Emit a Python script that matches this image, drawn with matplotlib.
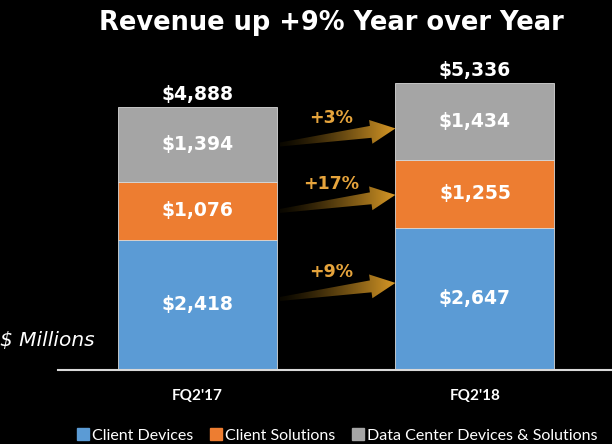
import numpy as np
import matplotlib.pyplot as plt
from matplotlib.patches import Polygon
from matplotlib.lines import Line2D

quarters = ["FQ2'17", "FQ2'18"]
client_devices = [2418, 2647]
client_solutions = [1076, 1255]
data_center = [1394, 1434]
growth = ["+9%", "+17%", "+3%"]

segment_names = ["Client Devices", "Client Solutions", "Data Center Devices & Solutions"]
colors = ['#5b9bd5', '#ed7d31', '#a5a5a5']
gold = '#e6a43c'
bar_width = 0.573

fig = plt.figure(figsize=(6.12, 4.44), dpi=100, facecolor='black')
ax = fig.add_axes([0.0948, 0.1667, 0.9052, 0.7027])
ax.set_facecolor('black')

x = np.arange(len(quarters))
series = [client_devices, client_solutions, data_center]
bottom = np.zeros(len(quarters))
centers = []
for vals, col in zip(series, colors):
    vals = np.array(vals)
    ax.bar(x, vals, bar_width, bottom=bottom, color=col,
           edgecolor='#d9d9d9', linewidth=0.6)
    for xi, b, v in zip(x, bottom, vals):
        ax.text(xi, b + v / 2, '${:,}'.format(v), ha='center', va='center',
                color='white', fontsize=13.5, fontweight='bold')
    centers.append(bottom + vals / 2)
    bottom = bottom + vals

# totals above bars
for xi, tot in zip(x, bottom):
    ax.text(xi, tot + 60, '${:,.0f}'.format(tot), ha='center', va='bottom',
            color='white', fontsize=13.5, fontweight='bold')

ax.set_xlim(-0.503, 1.494)
ax.set_ylim(0, 5800)
ax.set_xticks(x)
ax.set_xticklabels(quarters, color='white', fontsize=11, fontweight='bold',
                   family='Lato')
ax.tick_params(axis='x', length=0, pad=14)
ax.set_yticks([])
for s in ['top', 'left', 'right']:
    ax.spines[s].set_visible(False)
ax.spines['bottom'].set_color('#d9d9d9')
ax.spines['bottom'].set_linewidth(1.5)


def gradient_arrow(x0, y0, x1, y1):
    # build the arrow outline in pixels, then map back to data
    p0 = ax.transData.transform((x0, y0))
    p1 = ax.transData.transform((x1, y1))
    d = p1 - p0
    L = np.hypot(*d)
    u = d / L
    n = np.array([-u[1], u[0]])
    hl = 25
    local = [(0, 2), (L - hl, 6), (L - hl, 12), (L, 0),
             (L - hl, -12), (L - hl, -6), (0, -2)]
    pts = np.array([p0 + a * u + b * n for a, b in local])
    pts = ax.transData.inverted().transform(pts)
    poly = Polygon(pts, closed=True, facecolor='none', edgecolor='none')
    ax.add_patch(poly)
    grad = np.linspace(0, 1, 256) ** 1.3
    c0 = np.array([0.04, 0.03, 0.0])
    c1 = np.array([0.85, 0.60, 0.15])
    img = (c0[None, :] * (1 - grad[:, None]) + c1[None, :] * grad[:, None])[None, :, :]
    im = ax.imshow(img, extent=[pts[:, 0].min(), pts[:, 0].max(),
                                pts[:, 1].min(), pts[:, 1].max()],
                   aspect='auto', origin='lower', zorder=3)
    im.set_clip_path(poly)


x_tail = x[0] + bar_width / 2 + 0.01
x_tip = x[1] - bar_width / 2
rise = 300
for c, label in zip(centers, growth):
    y0 = c[0] + (110 if label == "+9%" else 0)
    gradient_arrow(x_tail, y0, x_tip, y0 + rise)
    ax.text(0.48, y0 + 500, label, ha='center', va='center', color=gold,
            fontsize=12.5, fontweight='bold')
ax.set_xlim(-0.503, 1.494)
ax.set_ylim(0, 5800)

fig.text(0.541, 0.948, 'Revenue up +9% Year over Year', ha='center', va='center',
         color='white', fontsize=18.5, fontweight='bold')
fig.text(0.0, (444 - 340) / 444, '$ Millions', ha='left', va='center',
         color='white', fontsize=14.5, style='italic')

handles = [Line2D([], [], marker='s', linestyle='none', markersize=9,
                  markerfacecolor=c, markeredgecolor=c) for c in colors]
fig.legend(handles, segment_names, loc='lower center', bbox_to_anchor=(0.55, -0.03),
           ncol=3, frameon=False, handletextpad=0.1, columnspacing=1.0,
           handlelength=0.9, labelcolor='white', prop={'family': 'Lato', 'size': 11.5})

fig.savefig('out.png', dpi=100, facecolor='black')
